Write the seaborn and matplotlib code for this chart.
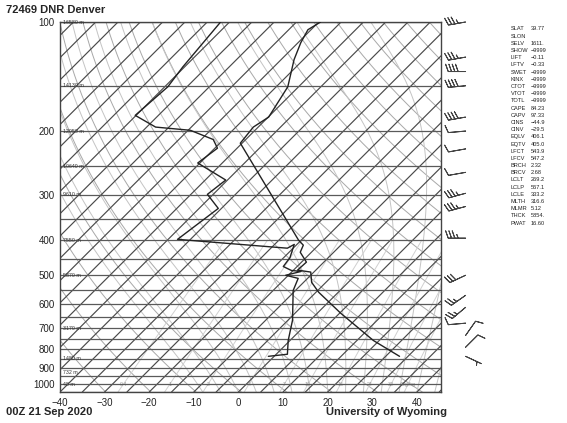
import numpy as np
import pandas as pd
import matplotlib
matplotlib.use("Agg")
import matplotlib.pyplot as plt
from matplotlib.ticker import NullLocator
import seaborn as sns

# ------------------------------------------------------- #
#            SOUNDING (hPa / C)       #
# ------------------------------------------------------- #
temp_p = [100, 105, 114, 127, 151, 183, 195, 216, 400, 413, 432, 460, 484,
          490, 523, 557, 636, 757, 837]
temp_t = [-64.6, -65.7, -64.4, -62.1, -57.4, -54.9, -56.1, -55.4, -20.6,
          -18.4, -17.5, -13.9, -14.1, -10.7, -8.2, -4.4, 5.2, 18.7, 28.1]

dwpt_p = [100, 133, 151, 181, 195, 199, 211, 223, 245, 273, 299, 327, 398,
          421, 411, 447, 473, 485, 488, 500, 510, 551, 665, 757, 826, 837]
dwpt_t = [-87.0, -85.4, -84.3, -85.2, -78.0, -69.5, -62.3, -59.4, -60.5,
          -50.4, -51.3, -45.7, -47.9, -21.3, -20.6, -18.6, -18.1, -15.4,
          -13.0, -15.6, -12.1, -10.5, -4.0, -0.4, 2.5, -1.3]

# viento (hPa, grados, nudos)
wind_p = [100, 125, 137, 150, 183, 200, 224, 260, 297, 323, 395, 500, 568,
          613, 678, 733, 790, 837]
wind_dir = [260, 260, 270, 265, 260, 265, 260, 260, 255, 255, 270, 245, 235,
            230, 265, 35, 45, 115]
wind_kt = [35, 35, 40, 40, 40, 10, 10, 10, 35, 35, 35, 30, 25, 25, 10, 10,
           10, 5]

# alturas de las isobaras
hgt_p = [100, 150, 200, 250, 300, 400, 500, 700, 850, 925, 1000]
hgt_lbl = ["16580 m", "14130 m", "12050 m", "10640 m", "9610 m", "7550 m",
           "5870 m", "3170 m", "1480 m", "732 m", "48 m"]

# razon de mezcla (g/kg)
mr_vals = [0.4, 1, 2, 4, 7, 10, 16, 24, 32, 40]
mr_lbls = ["0.4", "1", "2", "4", "7", "10", "16", "24", "32", "40g/kg"]

# indices
idx_names = ["SLAT", "SLON", "SELV", "SHOW", "LIFT", "LFTV", "SWET", "KINX",
             "CTOT", "VTOT", "TOTL", "CAPE", "CAPV", "CINS", "CINV", "EQLV",
             "EQTV", "LFCT", "LFCV", "BRCH", "BRCV", "LCLT", "LCLP", "LCLE",
             "MLTH", "MLMR", "THCK", "PWAT"]
idx_vals = ["39.77", "", "1611.", "-9999", "-0.11", "-0.33", "-9999", "-9999",
            "-9999", "-9999", "-9999", "84.23", "97.33", "-44.9", "-29.5",
            "406.1", "405.0", "543.9", "547.2", "2.32", "2.68", "269.2",
            "567.1", "333.2", "316.6", "5.12", "5854.", "16.60"]

# ------------------------------------------------------- #
#                     SKEW-T HELPERS                      #
# ------------------------------------------------------- #
K = 35.3
P_BOT = 1050.0
P_TOP = 100.0


def skew(t, p):
    return np.asarray(t, float) + K * np.log(P_BOT / np.asarray(p, float))


def sat_vp(tc):
    return 6.112 * np.exp(17.67 * tc / (tc + 243.5))


def moist_line(t_start, pp):
    Rd, cp, L, eps = 287.04, 1005.7, 2.501e6, 0.622
    T = t_start + 273.15
    out = [T]
    for i in range(1, len(pp)):
        p = pp[i - 1]
        es = sat_vp(T - 273.15)
        rs = eps * es / (p - es)
        dTdp = (Rd * T + L * rs) / (cp + L * L * rs * eps / (Rd * T * T)) / p
        T = T + dTdp * (pp[i] - p)
        out.append(T)
    return np.array(out) - 273.15


# ------------------------------------------------------- #
#                        FIGURA                           #
# ------------------------------------------------------- #
sns.set_style("white")
plt.rcParams['font.family'] = ['Liberation Sans', 'DejaVu Sans']

fig = plt.figure(figsize=(5.67, 4.23), dpi=100)
ax = fig.add_axes([60 / 567, 31 / 423, 381 / 567, 370 / 423])
ax.set_yscale('log')

pp = np.geomspace(P_BOT, P_TOP, 300)

# adiabaticas secas
for th in range(230, 470, 10):
    t = th * (pp / 1000.0) ** 0.286 - 273.15
    ax.plot(skew(t, pp), pp, color='#a8a8a8', lw=0.7, zorder=1)

# adiabaticas humedas
for t0 in range(-8, 48, 4):
    pm = np.geomspace(P_BOT, P_TOP, 400)
    t = moist_line(t0, pm)
    ax.plot(skew(t, pm), pm, color='#c4c4c4', lw=0.7, zorder=1)

# razon de mezcla
pw = np.geomspace(P_BOT, 400, 50)
for w, lbl in zip(mr_vals, mr_lbls):
    e = w * pw / (622.0 + w)
    a = np.log(e / 6.112)
    td = 243.5 * a / (17.67 - a)
    ax.plot(skew(td, pw), pw, color='#d0d0d0', lw=0.7, zorder=1)
    e0 = w * 1000 / (622.0 + w)
    a0 = np.log(e0 / 6.112)
    td0 = 243.5 * a0 / (17.67 - a0)
    ax.text(skew(td0, 1000), 1000, lbl, fontsize=3.8, color='#999999',
            ha='center', va='center', zorder=2)

# isotermas
for t in range(-150, 50, 5):
    ax.plot(skew(np.full(2, t), [P_BOT, P_TOP]), [P_BOT, P_TOP],
            color='#4a4a4a', lw=0.85, zorder=2)

# isobaras
for p in range(100, 1051, 50):
    ax.axhline(p, color='#5a5a5a', lw=0.9, zorder=2)

# alturas
for p, lbl in zip(hgt_p, hgt_lbl):
    ax.text(-39.3, p, lbl, fontsize=3.8, color='#333333', ha='left',
            va='center', zorder=3)

# perfiles
df_t = pd.DataFrame({'x': skew(temp_t, temp_p), 'p': temp_p})
df_d = pd.DataFrame({'x': skew(dwpt_t, dwpt_p), 'p': dwpt_p})
sns.lineplot(data=df_t, x='x', y='p', sort=False, estimator=None,
             color='#222222', lw=1.0, ax=ax, zorder=4)
sns.lineplot(data=df_d, x='x', y='p', sort=False, estimator=None,
             color='#222222', lw=1.0, ax=ax, zorder=4)

ax.set_xlim(-40, 45.4)
ax.set_ylim(P_BOT, P_TOP)
ax.set_xlabel('')
ax.set_ylabel('')
ax.set_xticks(range(-40, 41, 10))
ax.set_yticks(range(100, 1001, 100))
ax.set_yticklabels([str(v) for v in range(100, 1001, 100)])
ax.yaxis.set_minor_locator(NullLocator())
ax.tick_params(length=0, labelsize=7, pad=4, colors='#222222')
for s in ax.spines.values():
    s.set_color('#444444')
    s.set_linewidth(1.0)

# barbas de viento
axb = fig.add_axes([441 / 567, 31 / 423, 60 / 567, 370 / 423])
axb.set_yscale('log')
axb.set_ylim(P_BOT, P_TOP)
axb.set_xlim(0, 1)
axb.axis('off')
wd = np.deg2rad(wind_dir)
u = -np.array(wind_kt) * np.sin(wd)
v = -np.array(wind_kt) * np.cos(wd)
axb.barbs(np.full(len(wind_p), 0.41), wind_p, u, v, length=5.0, lw=0.7,
          color='#444444', clip_on=False,
          sizes=dict(spacing=0.19, height=0.42, width=0.3))

# indices
for i, (n, val) in enumerate(zip(idx_names, idx_vals)):
    y = 1 - (29 + i * 7.19) / 423
    fig.text(510.5 / 567, y, n, fontsize=4.1, va='center', color='#222222')
    fig.text(530.5 / 567, y, val.replace('-', '\u2212'), fontsize=4.1,
             va='center', color='#222222')

fig.text(6 / 567, 1 - 10 / 423, "72469 DNR Denver", fontsize=8,
         fontweight='bold', va='center')
fig.text(6 / 567, 1 - 412 / 423, "00Z 21 Sep 2020", fontsize=8,
         fontweight='bold', va='center')
fig.text(447 / 567, 1 - 412 / 423, "University of Wyoming", fontsize=8,
         fontweight='bold', va='center', ha='right')

fig.savefig('out.png', dpi=100)
